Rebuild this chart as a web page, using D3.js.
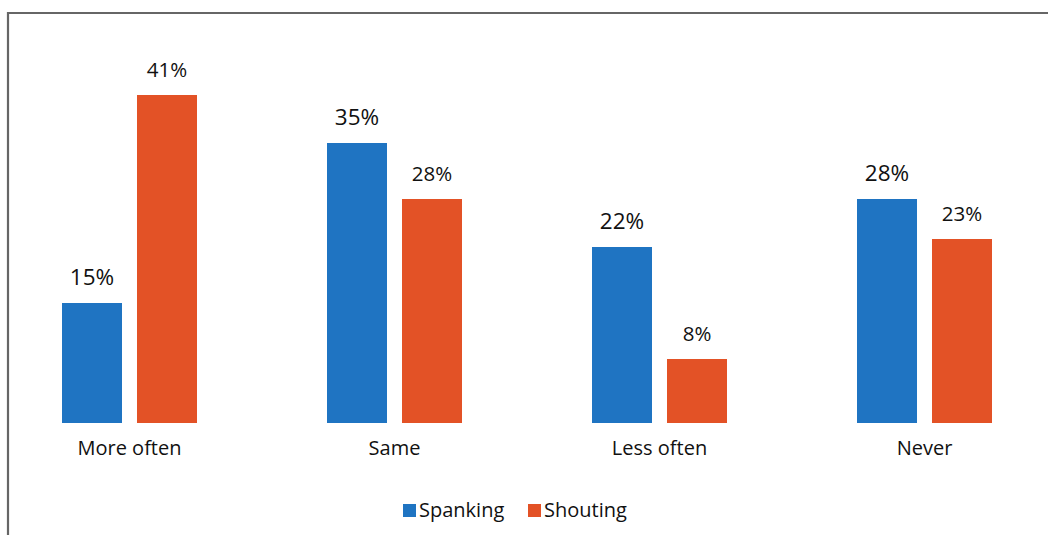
<!DOCTYPE html>
<html>
<head>
<meta charset="utf-8">
<script src="https://cdn.jsdelivr.net/npm/d3@7"></script>
<style>
  body { margin: 0; background: #fff; }
  text { font-family: "Open Sans", "Noto Sans", sans-serif; fill: #111; }
</style>
</head>
<body>
<div id="chart"></div>
<script>
// data
const categories = ["More often", "Same", "Less often", "Never"];
const seriesNames = ["Spanking", "Shouting"];
const spanking = [15, 35, 22, 28];
const shouting = [41, 28, 8, 23];

const colors = { Spanking: "#1f74c2", Shouting: "#e35226" };

const width = 1048, height = 535;

const svg = d3.select("#chart")
    .append("svg")
    .attr("width", width)
    .attr("height", height);

// frame (top + left only)
svg.append("line")
    .attr("x1", 8).attr("x2", width)
    .attr("y1", 13).attr("y2", 13)
    .attr("stroke", "#666").attr("stroke-width", 2.2);
svg.append("line")
    .attr("x1", 8).attr("x2", 8)
    .attr("y1", 12).attr("y2", height)
    .attr("stroke", "#666").attr("stroke-width", 2.2);

const rows = categories.map((c, i) => ({
    category: c,
    Spanking: spanking[i],
    Shouting: shouting[i]
}));

const x0 = d3.scaleBand()
    .domain(categories)
    .range([62, 992])
    .paddingInner(0.4906)
    .paddingOuter(0);

const x1 = d3.scaleBand()
    .domain(seriesNames)
    .range([0, x0.bandwidth()])
    .paddingInner(0.2);

const y = d3.scaleLinear()
    .domain([0, 41])
    .range([423, 95]);

const groups = svg.selectAll("g.group")
    .data(rows)
    .enter()
    .append("g")
    .attr("class", "group")
    .attr("transform", d => `translate(${x0(d.category)},0)`);

const cells = groups.selectAll("g.cell")
    .data(d => seriesNames.map(s => ({ key: s, value: d[s] })))
    .enter()
    .append("g");

cells.append("rect")
    .attr("x", d => x1(d.key))
    .attr("y", d => y(d.value))
    .attr("width", x1.bandwidth())
    .attr("height", d => y(0) - y(d.value))
    .attr("fill", d => colors[d.key]);

// value labels
cells.append("text")
    .attr("x", d => x1(d.key) + x1.bandwidth() / 2)
    .attr("y", d => y(d.value) - 18)
    .attr("text-anchor", "middle")
    .style("font-size", d => d.key === "Spanking" ? "22.5px" : "20.5px")
    .style("font-weight", 500)
    .text(d => d.value + "%");

// category labels
svg.selectAll("text.cat")
    .data(categories)
    .enter()
    .append("text")
    .attr("class", "cat")
    .attr("x", d => x0(d) + x0.bandwidth() / 2)
    .attr("y", 455)
    .attr("text-anchor", "middle")
    .style("font-size", "20px")
    .text(d => d);

// legend
const legendX = [403, 528];
const legend = svg.selectAll("g.legend")
    .data(seriesNames)
    .enter()
    .append("g")
    .attr("class", "legend")
    .attr("transform", (d, i) => `translate(${legendX[i]},0)`);

legend.append("rect")
    .attr("x", 0).attr("y", 504)
    .attr("width", 13).attr("height", 13)
    .attr("fill", d => colors[d]);

legend.append("text")
    .attr("x", 16)
    .attr("y", 517)
    .style("font-size", "20px")
    .text(d => d);
</script>
</body>
</html>
